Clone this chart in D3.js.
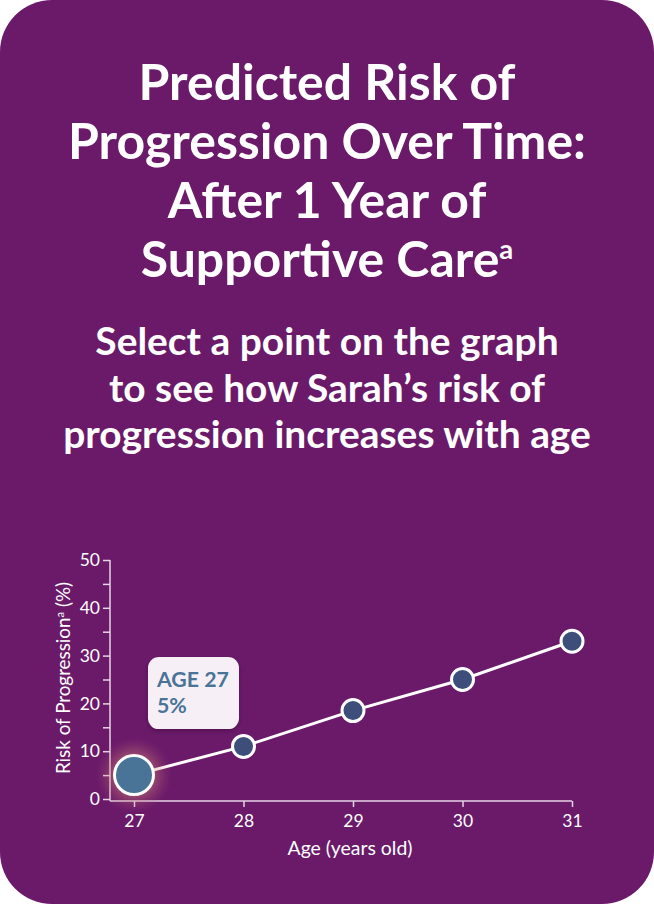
<!DOCTYPE html>
<html>
<head>
<meta charset="utf-8">
<script src="https://cdn.jsdelivr.net/npm/d3@7"></script>
<style>
  html, body { margin: 0; padding: 0; background: #ffffff; }
  svg { display: block; }
</style>
</head>
<body>
<div id="chart"></div>
<script>
// chart data
const ages = [27, 28, 29, 30, 31];
const risk = [5, 11, 18.5, 25, 33];
const yTicks = [0, 5, 10, 15, 20, 25, 30, 35, 40, 45, 50];
const titleLines = ["Predicted Risk of", "Progression Over Time:", "After 1 Year of", "Supportive Care"];
const subtitleLines = ["Select a point on the graph", "to see how Sarah\u2019s risk of", "progression increases with age"];
const selected = 0; // index of highlighted point (age 27)

const W = 654, H = 904;
const bg = "#6a1a69";
const font = "Lato, 'Noto Sans', sans-serif";

const svg = d3.select("#chart")
    .append("svg")
    .attr("width", W)
    .attr("height", H);

const defs = svg.append("defs");
const glow = defs.append("radialGradient").attr("id", "glow");
glow.append("stop").attr("offset", "0%").attr("stop-color", "#ffd59a").attr("stop-opacity", 0.9);
glow.append("stop").attr("offset", "50%").attr("stop-color", "#e39a72").attr("stop-opacity", 0.4);
glow.append("stop").attr("offset", "100%").attr("stop-color", "#b0507a").attr("stop-opacity", 0);

const shadow = defs.append("filter").attr("id", "shadow")
    .attr("x", "-20%").attr("y", "-20%").attr("width", "140%").attr("height", "150%");
shadow.append("feDropShadow").attr("dx", 0).attr("dy", 2).attr("stdDeviation", 2)
    .attr("flood-color", "#2a0a2a").attr("flood-opacity", 0.35);

// card
svg.append("rect")
    .attr("x", 0).attr("y", 0)
    .attr("width", W).attr("height", H)
    .attr("rx", 52).attr("ry", 52)
    .attr("fill", bg);

// scale a text's font so its width becomes targetWidth
function fitText(sel, targetWidth, widest) {
    sel.attr("font-size", 40);
    const w = widest ? widest() : sel.node().getComputedTextLength();
    const size = 40 * targetWidth / w;
    sel.attr("font-size", size);
    return size;
}

function textBlock(lines, baseY, step, targetWidth) {
    const t = svg.append("text")
        .attr("text-anchor", "middle")
        .attr("font-family", font)
        .attr("font-weight", 700)
        .attr("fill", "#ffffff");
    const spans = t.selectAll("tspan")
        .data(lines)
        .enter()
        .append("tspan")
        .attr("x", W / 2)
        .attr("y", (d, i) => baseY + i * step)
        .text(d => d);
    const size = fitText(t, targetWidth, () => {
        let m = 0;
        spans.each(function() { m = Math.max(m, this.getComputedTextLength()); });
        return m;
    });
    return {t, spans, size};
}

const title = textBlock(titleLines, 100, 59, 518);
// superscript "a" after "Supportive Care"
title.spans.filter((d, i) => i === titleLines.length - 1)
    .append("tspan")
    .attr("font-size", title.size * 0.55)
    .attr("dy", -title.size * 0.36)
    .text("a");

textBlock(subtitleLines, 355, 46.5, 528);

// chart area
const x = d3.scaleLinear()
    .domain([27, 31])
    .range([134, 572]);

const y = d3.scaleLinear()
    .domain([0, 50])
    .range([799, 560]);

const axisColor = "#e6d4e6";
const yLeft = 110, xBase = 801;

const yAxis = svg.append("g")
    .attr("transform", `translate(${yLeft},0)`)
    .call(d3.axisLeft(y)
        .tickValues(yTicks)
        .tickSize(7)
        .tickSizeOuter(0)
        .tickPadding(3)
        .tickFormat(d => d % 10 === 0 ? d : ""));
yAxis.select(".domain").attr("d", `M0,${y(50)}V${xBase}`);

const xAxis = svg.append("g")
    .attr("transform", `translate(0,${xBase})`)
    .call(d3.axisBottom(x)
        .tickValues(ages)
        .tickSize(6)
        .tickSizeOuter(0)
        .tickPadding(8)
        .tickFormat(d3.format("d")));
xAxis.select(".domain").attr("d", `M${yLeft},0H${x(31)}`);

svg.selectAll(".domain, .tick line")
    .attr("stroke", axisColor)
    .attr("stroke-width", 1.5);
svg.selectAll(".tick text")
    .attr("fill", "#ffffff")
    .attr("font-family", font)
    .attr("font-size", 17.5);

// axis titles
const yTitle = svg.append("text")
    .attr("transform", `translate(70,678) rotate(-90)`)
    .attr("text-anchor", "middle")
    .attr("font-family", font)
    .attr("fill", "#ffffff")
    .text("Risk of Progression");
const yTitleSup = yTitle.append("tspan").attr("dy", -6).text("a");
const yTitleEnd = yTitle.append("tspan").attr("dy", 6).text(" (%)");
const ySize = fitText(yTitle, 196);
yTitleSup.attr("font-size", ySize * 0.6);

const xTitle = svg.append("text")
    .attr("x", 350)
    .attr("y", 855)
    .attr("text-anchor", "middle")
    .attr("font-family", font)
    .attr("fill", "#ffffff")
    .text("Age (years old)");
fitText(xTitle, 125);

// line
const pts = ages.map((a, i) => ({age: a, risk: risk[i], i}));

svg.append("path")
    .datum(pts)
    .attr("fill", "none")
    .attr("stroke", "#ffffff")
    .attr("stroke-width", 3)
    .attr("d", d3.line().x(d => x(d.age)).y(d => y(d.risk)));

// glow behind selected point
const sel = pts[selected];
svg.append("circle")
    .attr("cx", x(sel.age))
    .attr("cy", y(sel.risk))
    .attr("r", 38)
    .attr("fill", "url(#glow)");

// points
svg.selectAll("circle.pt")
    .data(pts)
    .enter()
    .append("circle")
    .attr("class", "pt")
    .attr("cx", d => x(d.age))
    .attr("cy", d => y(d.risk))
    .attr("r", d => d.i === selected ? 19.5 : 11)
    .attr("fill", d => d.i === selected ? "#4a7497" : "#3e4e7a")
    .attr("stroke", "#ffffff")
    .attr("stroke-width", 3);

// tooltip
const tipX = x(sel.age) + 14, tipY = y(sel.risk) - 118;
const tip = svg.append("g").attr("transform", `translate(${tipX},${tipY})`);
tip.append("rect")
    .attr("width", 91).attr("height", 72)
    .attr("rx", 11).attr("ry", 11)
    .attr("fill", "#f6eff6")
    .attr("filter", "url(#shadow)");
const tip1 = tip.append("text")
    .attr("x", 9).attr("y", 30)
    .attr("font-family", font)
    .attr("font-weight", 700)
    .attr("fill", "#4a7497")
    .text(`AGE ${sel.age}`);
const tipSize = fitText(tip1, 72);
tip.append("text")
    .attr("x", 9).attr("y", 56)
    .attr("font-family", font)
    .attr("font-weight", 700)
    .attr("font-size", tipSize)
    .attr("fill", "#4a7497")
    .text(`${sel.risk}%`);
</script>
</body>
</html>
